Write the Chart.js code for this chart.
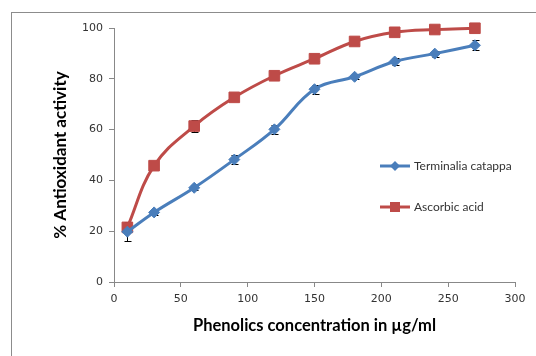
<!DOCTYPE html>
<html lang="en">
<head>
  <meta charset="UTF-8" />
  <title>Antioxidant activity</title>
  <script src="https://cdn.jsdelivr.net/npm/chart.js"></script>
  <style>
    body { margin: 0; background: white; }
    #wrap { width: 536px; height: 356px; position: relative; }
  </style>
</head>
<body>
  <div id="wrap"><canvas id="grafico" width="536" height="356"></canvas></div>

  <script>
    // data
    const concentracoes = [10, 30, 60, 90, 120, 150, 180, 210, 240, 270];
    const terminalia = [19.8, 27.4, 37.1, 48.2, 60.1, 75.9, 80.8, 86.8, 89.9, 93.2];
    const terminaliaErro = [3.8, 1, 1, 1.8, 1.8, 1.8, 1, 1.2, 1.2, 2];
    const ascorbico = [21.5, 45.8, 61.4, 72.7, 81.2, 87.9, 94.7, 98.3, 99.4, 99.9];
    const ascorbicoErro = [1, 1, 2.3, 1, 1, 1, 1, 1, 1, 1];
    const nomes = ['Terminalia catappa', 'Ascorbic acid'];

    const azul = '#4a7ebb';
    const vermelho = '#be4b48';

    function pares(ys) {
      return concentracoes.map((x, i) => ({ x: x, y: ys[i] }));
    }

    // error bars (behind the markers), legend and outer frame
    const extras = {
      id: 'extras',
      beforeDatasetsDraw(chart) {
        const ctx = chart.ctx;
        const xs = chart.scales.x, ys = chart.scales.y;
        const erros = [terminaliaErro, ascorbicoErro];
        const series = [terminalia, ascorbico];
        ctx.save();
        ctx.strokeStyle = '#000';
        ctx.lineWidth = 1;
        series.forEach((s, k) => {
          s.forEach((v, i) => {
            const px = Math.round(xs.getPixelForValue(concentracoes[i])) + 0.5;
            const top = Math.round(ys.getPixelForValue(v + erros[k][i])) + 0.5;
            const bot = Math.round(ys.getPixelForValue(v - erros[k][i])) + 0.5;
            ctx.beginPath();
            ctx.moveTo(px, top); ctx.lineTo(px, bot);
            ctx.moveTo(px - 3, top); ctx.lineTo(px + 4, top);
            ctx.moveTo(px - 3, bot); ctx.lineTo(px + 4, bot);
            ctx.stroke();
          });
        });
        ctx.restore();
      },
      afterDraw(chart) {
        const ctx = chart.ctx;
        ctx.save();
        ctx.strokeStyle = '#8c8c8c';
        ctx.lineWidth = 1;
        ctx.strokeRect(11.5, 12.5, 700, 500);

        const itens = [
          { cor: azul, y: 166, forma: 'losango' },
          { cor: vermelho, y: 207, forma: 'quadrado' }
        ];
        itens.forEach((it, i) => {
          ctx.strokeStyle = it.cor;
          ctx.lineWidth = 3;
          ctx.beginPath();
          ctx.moveTo(380, it.y); ctx.lineTo(410, it.y);
          ctx.stroke();
          ctx.fillStyle = it.cor;
          ctx.beginPath();
          if (it.forma === 'losango') {
            ctx.moveTo(395, it.y - 5); ctx.lineTo(400, it.y);
            ctx.lineTo(395, it.y + 5); ctx.lineTo(390, it.y);
          } else {
            ctx.rect(390, it.y - 5, 10, 10);
          }
          ctx.fill();
          ctx.fillStyle = '#333';
          ctx.font = '12px Lato';
          ctx.textBaseline = 'middle';
          ctx.fillText(nomes[i], 414, it.y);
        });
        ctx.restore();
      }
    };

    new Chart(document.getElementById('grafico'), {
      type: 'line',
      data: {
        datasets: [
          {
            label: nomes[0], data: pares(terminalia),
            borderColor: azul, backgroundColor: azul, borderWidth: 3,
            pointStyle: 'rectRot', pointRadius: 5.5, pointBorderWidth: 1, tension: 0.4,
            clip: false
          },
          {
            label: nomes[1], data: pares(ascorbico),
            borderColor: vermelho, backgroundColor: vermelho, borderWidth: 3,
            pointStyle: 'rect', pointRadius: 7.5, pointBorderWidth: 1, tension: 0.4,
            clip: false
          }
        ]
      },
      options: {
        responsive: false,
        animation: false,
        layout: { padding: { left: 0, right: 21, top: 28, bottom: 0 } },
        plugins: { legend: { display: false }, tooltip: { enabled: false } },
        scales: {
          x: {
            type: 'linear', min: 0, max: 300,
            ticks: { stepSize: 50, color: '#333', font: { family: 'DejaVu Sans', size: 11 }, padding: 6 },
            grid: { drawOnChartArea: false, tickLength: 5, color: '#888' },
            border: { color: '#888' },
            title: {
              display: true, text: 'Phenolics concentration in \u00b5g/ml', color: '#000',
              font: { family: 'Lato', size: 16.5, weight: 'bold' }, padding: { top: 0, bottom: 20 }
            },
            afterFit(s) { s.height = 74; }
          },
          y: {
            min: 0, max: 100,
            ticks: { stepSize: 20, color: '#333', font: { family: 'DejaVu Sans', size: 11 }, padding: 6 },
            grid: { drawOnChartArea: false, tickLength: 5, color: '#888' },
            border: { color: '#888' },
            title: {
              display: true, text: '% Antioxidant activity', color: '#000',
              font: { family: 'Lato', size: 17, weight: 'bold' }, padding: { top: 50, bottom: 0 }
            },
            afterFit(s) { s.width = 114; }
          }
        }
      },
      plugins: [extras]
    });
  </script>
</body>
</html>
